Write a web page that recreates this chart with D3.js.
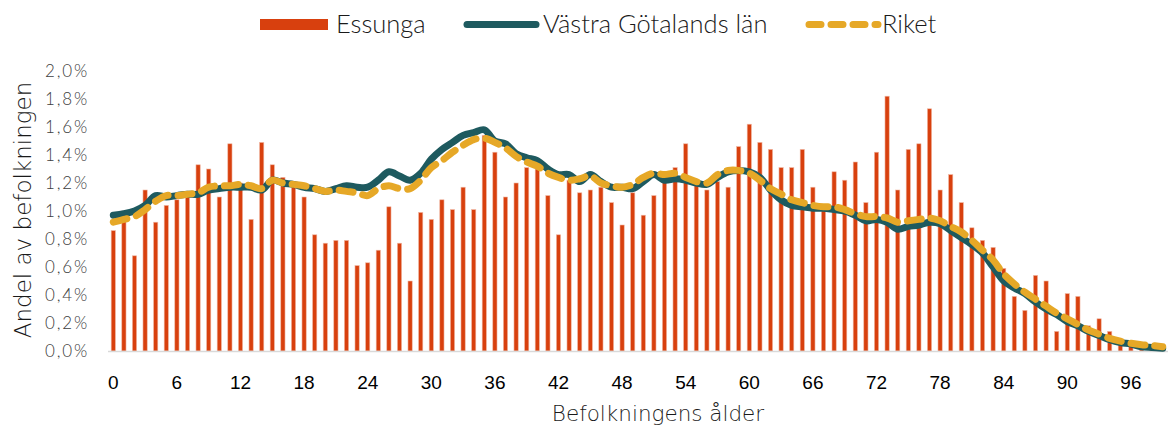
<!DOCTYPE html>
<html lang="sv">
<head>
<meta charset="UTF-8">
<title>Befolkning efter ålder</title>
<script src="https://cdnjs.cloudflare.com/ajax/libs/d3/7.8.5/d3.min.js"></script>
<style>
    body{ margin:0; background:#fff; }
    svg{ display:block; }
    .lt{ font-family: Lato, "Open Sans", sans-serif; font-weight:300; }
    .dv{ font-family: "DejaVu Sans", sans-serif; font-weight:200; }
</style>
</head>
<body>
<svg id="chart" width="1168" height="428"></svg>
<script>
// age 0..99
const ages = d3.range(0, 100);

const essunga = [
  0.86, 1.00, 0.68, 1.15, 0.92, 1.04, 1.08, 1.10, 1.33, 1.30,
  1.10, 1.48, 1.20, 0.94, 1.49, 1.33, 1.24, 1.17, 1.10, 0.83,
  0.77, 0.79, 0.79, 0.61, 0.63, 0.72, 1.03, 0.77, 0.50, 0.99,
  0.94, 1.08, 1.01, 1.17, 1.01, 1.54, 1.42, 1.10, 1.20, 1.31,
  1.30, 1.11, 0.83, 1.22, 1.13, 1.15, 1.17, 1.06, 0.90, 1.13,
  0.97, 1.11, 1.21, 1.31, 1.48, 1.19, 1.15, 1.21, 1.17, 1.46,
  1.62, 1.49, 1.44, 1.31, 1.31, 1.44, 1.17, 1.02, 1.28, 1.22,
  1.35, 1.06, 1.42, 1.82, 1.15, 1.44, 1.48, 1.73, 1.15, 1.26,
  1.06, 0.88, 0.79, 0.74, 0.59, 0.39, 0.29, 0.54, 0.50, 0.14,
  0.41, 0.39, 0.18, 0.23, 0.14, 0.08, 0.07, 0.03, 0.02, 0.01
];

const vastra = [
  0.97, 0.98, 1.00, 1.04, 1.11, 1.10, 1.11, 1.12, 1.12, 1.15,
  1.16, 1.17, 1.17, 1.17, 1.15, 1.22, 1.20, 1.19, 1.17, 1.16,
  1.14, 1.16, 1.18, 1.17, 1.17, 1.22, 1.28, 1.25, 1.22, 1.27,
  1.37, 1.44, 1.49, 1.54, 1.56, 1.58, 1.50, 1.48, 1.41, 1.38,
  1.36, 1.30, 1.26, 1.26, 1.21, 1.26, 1.21, 1.17, 1.17, 1.16,
  1.21, 1.26, 1.22, 1.23, 1.22, 1.20, 1.19, 1.24, 1.28, 1.29,
  1.28, 1.24, 1.15, 1.08, 1.04, 1.03, 1.02, 1.02, 1.01, 1.00,
  0.97, 0.93, 0.94, 0.92, 0.87, 0.89, 0.90, 0.92, 0.91, 0.86,
  0.81, 0.76, 0.70, 0.60, 0.50, 0.45, 0.41, 0.35, 0.30, 0.26,
  0.21, 0.18, 0.14, 0.11, 0.08, 0.06, 0.05, 0.03, 0.025, 0.02
];

const riket = [
  0.92, 0.94, 0.96, 1.01, 1.07, 1.11, 1.11, 1.12, 1.13, 1.17,
  1.18, 1.18, 1.19, 1.18, 1.16, 1.22, 1.20, 1.19, 1.18, 1.16,
  1.14, 1.15, 1.14, 1.13, 1.11, 1.16, 1.18, 1.16, 1.16, 1.22,
  1.31, 1.36, 1.42, 1.47, 1.51, 1.52, 1.49, 1.45, 1.39, 1.35,
  1.32, 1.27, 1.24, 1.22, 1.23, 1.25, 1.20, 1.18, 1.17, 1.19,
  1.24, 1.27, 1.26, 1.27, 1.24, 1.21, 1.20, 1.26, 1.29, 1.29,
  1.27, 1.22, 1.16, 1.12, 1.08, 1.06, 1.04, 1.03, 1.03, 1.01,
  0.98, 0.96, 0.96, 0.95, 0.92, 0.93, 0.94, 0.95, 0.93, 0.89,
  0.85, 0.79, 0.72, 0.65, 0.55, 0.48, 0.42, 0.37, 0.32, 0.27,
  0.23, 0.19, 0.15, 0.12, 0.09, 0.07, 0.055, 0.045, 0.04, 0.03
];

const yTicks = [0, 0.2, 0.4, 0.6, 0.8, 1.0, 1.2, 1.4, 1.6, 1.8, 2.0];
const xTicks = d3.range(0, 100, 6);

const seriesNames = ["Essunga", "Västra Götalands län", "Riket"];
const colors = { bar: "#d8400e", vg: "#1e5a5f", riket: "#e6a827" };

const svg = d3.select("#chart");

const x = d3.scaleBand().domain(ages).range([108, 1168]).paddingInner(0.6).paddingOuter(0.3);
const y = d3.scaleLinear().domain([0, 2.0]).range([351, 71]);

// bars
svg.append("g")
  .selectAll("rect")
  .data(ages)
  .enter()
  .append("rect")
  .attr("x", d => x(d))
  .attr("width", x.bandwidth())
  .attr("y", d => y(essunga[d]))
  .attr("height", d => y(0) - y(essunga[d]))
  .attr("fill", colors.bar)
  .attr("stroke", "#f0b8a4")
  .attr("stroke-width", 0.6);

// baseline
svg.append("line")
  .attr("x1", 108).attr("x2", 1168)
  .attr("y1", y(0) + 0.5).attr("y2", y(0) + 0.5)
  .attr("stroke", "#d9d9d9").attr("stroke-width", 1.5);

const cx = d => x(d) + x.bandwidth() / 2;
const line = arr => d3.line()
  .x(d => cx(d))
  .y(d => y(arr[d]))
  .curve(d3.curveCatmullRom.alpha(0.5))(ages);

svg.append("path")
  .attr("d", line(vastra))
  .attr("fill", "none")
  .attr("stroke", colors.vg)
  .attr("stroke-width", 7)
  .attr("stroke-linejoin", "round")
  .attr("stroke-linecap", "round");

svg.append("path")
  .attr("d", line(riket))
  .attr("fill", "none")
  .attr("stroke", colors.riket)
  .attr("stroke-width", 7)
  .attr("stroke-dasharray", "14 10")
  .attr("stroke-linecap", "round");

// y axis labels
svg.append("g")
  .selectAll("text")
  .data(yTicks)
  .enter()
  .append("text")
  .attr("class", "lt")
  .attr("x", 89)
  .attr("y", d => y(d) + 6)
  .attr("text-anchor", "end")
  .attr("font-size", 17)
  .attr("letter-spacing", 1.8)
  .attr("fill", "#404040")
  .text(d => d.toFixed(1).replace(".", ",") + "%");

// x axis labels
svg.append("g")
  .selectAll("text")
  .data(xTicks)
  .enter()
  .append("text")
  .attr("x", d => cx(d))
  .attr("y", 389)
  .attr("text-anchor", "middle")
  .attr("font-family", "Liberation Sans, Arial, sans-serif")
  .attr("font-size", 19)
  .attr("fill", "#000")
  .text(d => d);

// axis titles
svg.append("text")
  .attr("class", "dv")
  .attr("x", 658).attr("y", 421)
  .attr("text-anchor", "middle")
  .attr("font-size", 21.5)
  .attr("fill", "#1a1a1a")
  .text("Befolkningens ålder");

svg.append("text")
  .attr("class", "dv")
  .attr("transform", "translate(31,210) rotate(-90)")
  .attr("text-anchor", "middle")
  .attr("font-size", 23)
  .attr("fill", "#1a1a1a")
  .text("Andel av befolkningen");

// legend
const leg = svg.append("g").attr("class", "lt");
leg.append("rect").attr("x", 260).attr("y", 19).attr("width", 68).attr("height", 11).attr("fill", colors.bar);
leg.append("text").attr("x", 336).attr("y", 33).attr("font-size", 25.5).attr("fill", "#1a1a1a").text(seriesNames[0]);
leg.append("line").attr("x1", 467).attr("x2", 536).attr("y1", 24.5).attr("y2", 24.5)
  .attr("stroke", colors.vg).attr("stroke-width", 7).attr("stroke-linecap", "round");
leg.append("text").attr("x", 543).attr("y", 33).attr("font-size", 25.5).attr("fill", "#1a1a1a").text(seriesNames[1]);
leg.append("line").attr("x1", 809).attr("x2", 878).attr("y1", 24.5).attr("y2", 24.5)
  .attr("stroke", colors.riket).attr("stroke-width", 7).attr("stroke-linecap", "round")
  .attr("stroke-dasharray", "12 10");
leg.append("text").attr("x", 882).attr("y", 33).attr("font-size", 25.5).attr("fill", "#1a1a1a").text(seriesNames[2]);
</script>
</body>
</html>
